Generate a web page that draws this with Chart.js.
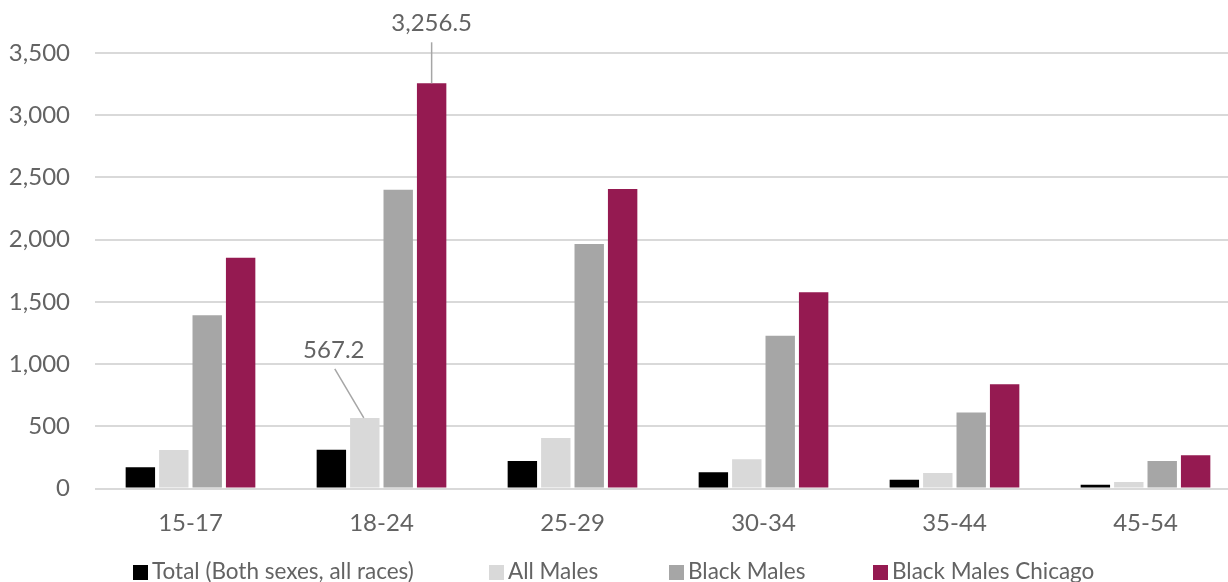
<!DOCTYPE html>
<html>
<head>
<meta charset="utf-8">
<script src="https://cdn.jsdelivr.net/npm/chart.js@4"></script>
<style>
  html, body { margin: 0; padding: 0; overflow: hidden; background: #ffffff; width: 1228px; height: 582px; }
  canvas { display: block; }
</style>
</head>
<body>
<canvas id="chart" width="1241" height="582"></canvas>
<script>
// Rates by age group
const ageGroups = ['15-17', '18-24', '25-29', '30-34', '35-44', '45-54'];
const totalBothSexes = [170, 312, 221, 130, 71, 31];
const allMales = [310, 567.2, 406, 235, 125, 52];
const blackMales = [1393, 2400, 1965, 1227, 610, 221];
const blackMalesChicago = [1854, 3256.5, 2407, 1578, 838, 267];

const seriesNames = ['Total (Both sexes, all races)', 'All Males', 'Black Males', 'Black Males Chicago'];
const seriesValues = [totalBothSexes, allMales, blackMales, blackMalesChicago];
const seriesColors = ['#000000', '#d9d9d9', '#a6a6a6', '#951a51'];

const yMin = 0;
const yMax = 3500;
const yStep = 500;

const FONT_FAMILY = 'Lato, "Open Sans", sans-serif';
const TEXT_COLOR = '#636363';
const TICK_SIZE = 24;
const LEGEND_SIZE = 22.5;

// Value callouts with a leader line: offsets are relative to the top centre of the bar
const callouts = [
  { series: 3, index: 1, text: [0, -60], from: [0, -41], to: [0, 0] },
  { series: 1, index: 1, text: [-31, -68], from: [-30, -49], to: [-1, 0] }
];

const fmt = (v, digits) => v.toLocaleString('en-US', { minimumFractionDigits: digits, maximumFractionDigits: digits });

const calloutPlugin = {
  id: 'callouts',
  afterDatasetsDraw(chart) {
    const ctx = chart.ctx;
    ctx.save();
    callouts.forEach(c => {
      const bar = chart.getDatasetMeta(c.series).data[c.index];
      const value = chart.data.datasets[c.series].data[c.index];
      const x = bar.x, y = bar.y;
      ctx.strokeStyle = '#a6a6a6';
      ctx.lineWidth = 1.5;
      ctx.beginPath();
      ctx.moveTo(x + c.from[0], y + c.from[1]);
      ctx.lineTo(x + c.to[0], y + c.to[1]);
      ctx.stroke();
      ctx.fillStyle = TEXT_COLOR;
      ctx.font = TICK_SIZE + 'px ' + FONT_FAMILY;
      ctx.textAlign = 'center';
      ctx.textBaseline = 'middle';
      ctx.fillText(fmt(value, 1), x + c.text[0], y + c.text[1]);
    });
    ctx.restore();
  }
};

// Legend row along the bottom edge
const legendX = [133, 489, 669, 873];
const legendPlugin = {
  id: 'bottomLegend',
  afterDraw(chart) {
    const ctx = chart.ctx;
    ctx.save();
    ctx.font = LEGEND_SIZE + 'px ' + FONT_FAMILY;
    ctx.textAlign = 'left';
    ctx.textBaseline = 'middle';
    chart.data.datasets.forEach((ds, i) => {
      const x = legendX[i];
      ctx.fillStyle = ds.backgroundColor;
      ctx.fillRect(x, 565, 15, 15);
      ctx.fillStyle = TEXT_COLOR;
      ctx.fillText(ds.label, x + 19, 572);
    });
    ctx.restore();
  }
};

new Chart(document.getElementById('chart'), {
  type: 'bar',
  data: {
    labels: ageGroups,
    datasets: seriesNames.map((name, i) => ({
      label: name,
      data: seriesValues[i],
      backgroundColor: seriesColors[i],
      borderWidth: 0,
      categoryPercentage: 0.70,
      barPercentage: 0.88
    }))
  },
  options: {
    responsive: false,
    animation: false,
    devicePixelRatio: 1,
    layout: { padding: { top: 53, left: 0, right: 0, bottom: 0 } },
    plugins: {
      legend: { display: false },
      tooltip: { enabled: false }
    },
    scales: {
      x: {
        grid: { display: false, drawTicks: false },
        border: { display: false },
        ticks: { color: TEXT_COLOR, font: { family: FONT_FAMILY, size: TICK_SIZE }, padding: 20, maxRotation: 0 },
        afterFit(scale) { scale.height = 93.5; }
      },
      y: {
        min: yMin,
        max: yMax,
        grid: { color: '#d9d9d9', lineWidth: 2, drawTicks: false },
        border: { display: false },
        ticks: {
          stepSize: yStep,
          padding: 25,
          color: TEXT_COLOR,
          font: { family: FONT_FAMILY, size: TICK_SIZE },
          callback: v => fmt(v, 0)
        },
        afterFit(scale) { scale.width = 95; }
      }
    }
  },
  plugins: [calloutPlugin, legendPlugin]
});
</script>
</body>
</html>
